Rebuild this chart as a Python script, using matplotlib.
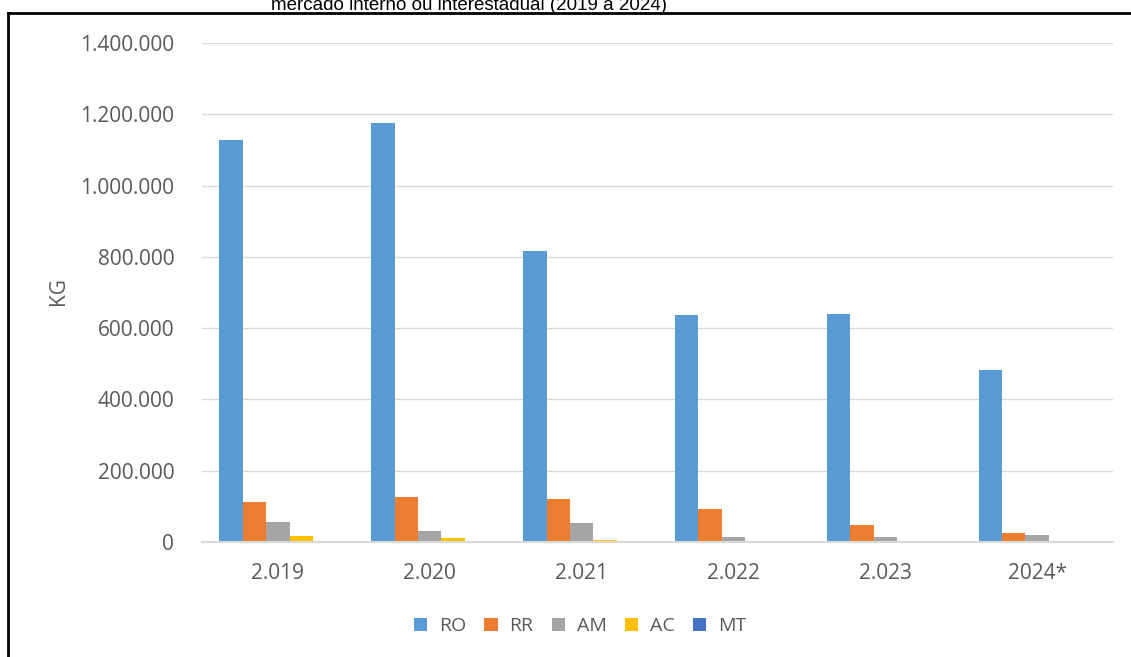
import numpy as np
import matplotlib.pyplot as plt
from matplotlib.lines import Line2D
from matplotlib.ticker import FuncFormatter

# Data (kg)
years = ["2.019", "2.020", "2.021", "2.022", "2.023", "2024*"]
ro = [1128000, 1175000, 816000, 636000, 640000, 482000]
rr = [112000, 126000, 121000, 92000, 48000, 25000]
am = [56000, 31000, 53000, 14000, 13000, 19000]
ac = [17000, 12000, 6000, 3000, 0, 0]
mt = [4000, 4000, 4000, 3500, 3500, 3500]

series = [("RO", ro, "#5B9BD5"), ("RR", rr, "#ED7D31"), ("AM", am, "#A5A5A5"),
          ("AC", ac, "#FFC000"), ("MT", mt, "#4472C4")]

W, H = 1131, 657
fig = plt.figure(figsize=(W / 100, H / 100), dpi=100)
ax = fig.add_axes([202 / W, 1 - 542 / H, (1113 - 202) / W, (542 - 43) / H])

x = np.arange(len(years))
bw = 0.154
for i, (name, vals, col) in enumerate(series):
    ax.bar(x + (i - 2) * bw, vals, bw, color=col, label=name, zorder=3)

ax.set_xlim(-0.5, len(years) - 0.5)
ax.set_ylim(0, 1400000)
ax.set_yticks(np.arange(0, 1400001, 200000))
ax.yaxis.set_major_formatter(FuncFormatter(lambda v, p: f"{int(v):,}".replace(",", ".")))
ax.set_xticks(x)
ax.set_xticklabels(years)

ax.grid(axis="y", color="#D9D9D9", linewidth=1.0, zorder=0)
for s in ["top", "right", "left"]:
    ax.spines[s].set_visible(False)
ax.spines["bottom"].set_color("#D9D9D9")
ax.spines["bottom"].set_linewidth(1.5)
ax.spines["bottom"].set_zorder(4)

ax.tick_params(axis="both", length=0, labelsize=15, labelcolor="#595959")
ax.tick_params(axis="y", pad=20)
ax.tick_params(axis="x", pad=15)
for lab in ax.get_xticklabels() + ax.get_yticklabels():
    lab.set_fontfamily("Open Sans")

fig.text(58 / W, 1 - 291 / H, "KG", rotation=90, ha="center", va="center",
         fontsize=15, color="#595959", fontfamily="Open Sans")

leg = fig.legend(loc="center", bbox_to_anchor=(580 / W, 1 - 626 / H), ncol=5, frameon=False,
                 prop={"family": "Open Sans", "size": 14}, handlelength=0.68,
                 handleheight=0.68, handletextpad=0.6, columnspacing=0.95,
                 labelcolor="#595959")

# title partially cut off at the top, as in the source
fig.text(469 / W, 1 - 9.5 / H, "mercado interno ou interestadual (2019 a 2024)",
         ha="center", va="baseline", fontsize=13.5, fontfamily="Liberation Sans", color="black")

# outer border (top and left edges)
fig.add_artist(Line2D([8 / W, 1], [1 - 12.5 / H, 1 - 12.5 / H], color="black", linewidth=2))
fig.add_artist(Line2D([8 / W, 8 / W], [1 - 12.5 / H, 0], color="black", linewidth=2))

fig.savefig("out.png", dpi=100, facecolor="white")
